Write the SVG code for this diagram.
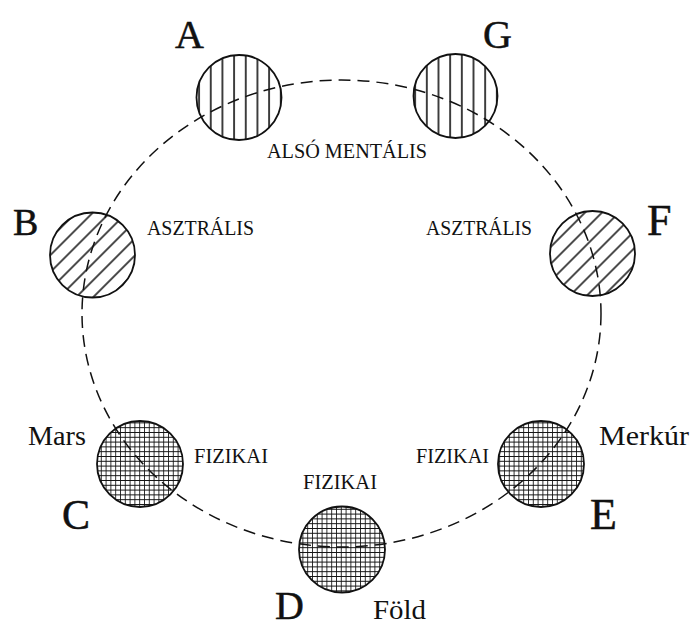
<svg xmlns="http://www.w3.org/2000/svg" width="692" height="628" viewBox="0 0 692 628">
<style>
.body{stroke:#111;stroke-width:1.8}
.big{font-family:"Liberation Serif","Times New Roman",serif;fill:#111;stroke:#111;stroke-width:0.5}
.word{font-family:"Liberation Serif","Times New Roman",serif;font-size:28px;fill:#111}
.lab{font-family:"Liberation Serif","Times New Roman",serif;font-size:20px;fill:#111}
.orbit{fill:none;stroke:#111;stroke-width:1.5;stroke-dasharray:12 7}
</style>
<defs>
<pattern id="vertA" patternUnits="userSpaceOnUse" x="0.7" y="0" width="11.67" height="20">
<rect width="11.67" height="20" fill="#fff"/>
<line x1="0" y1="0" x2="0" y2="20" stroke="#111" stroke-width="1.6"/>
<line x1="11.67" y1="0" x2="11.67" y2="20" stroke="#111" stroke-width="1.6"/>
</pattern>
<pattern id="vertG" href="#vertA" x="6.7"/>
<pattern id="diag" patternUnits="userSpaceOnUse" width="12" height="12" patternTransform="rotate(45)">
<rect width="12" height="12" fill="#fff"/>
<line x1="0" y1="0" x2="0" y2="12" stroke="#111" stroke-width="1.5"/>
<line x1="12" y1="0" x2="12" y2="12" stroke="#111" stroke-width="1.5"/>
</pattern>
<pattern id="grid" patternUnits="userSpaceOnUse" width="4.8" height="4.8">
<rect width="4.8" height="4.8" fill="#fff"/>
<path d="M0 0V4.8M0 0H4.8" stroke="#111" stroke-width="1.7"/>
</pattern>
</defs>
<rect width="692" height="628" fill="#fff"/>
<g id="node-A">
<circle class="body" cx="239" cy="97.5" r="42.5" fill="url(#vertA)"/>
<text class="big" x="175" y="48" font-size="40">A</text>
</g>
<g id="node-G">
<circle class="body" cx="455.5" cy="96" r="42" fill="url(#vertG)"/>
<text class="big" x="483" y="48" font-size="40">G</text>
</g>
<g id="label-mental">
<text class="lab" x="267" y="158" textLength="160" lengthAdjust="spacingAndGlyphs">ALSÓ MENTÁLIS</text>
</g>
<g id="node-B">
<circle class="body" cx="92.5" cy="255" r="42.5" fill="url(#diag)"/>
<text class="big" x="13" y="235" font-size="38">B</text>
<text class="lab" x="147" y="235" textLength="107" lengthAdjust="spacingAndGlyphs">ASZTRÁLIS</text>
</g>
<g id="node-F">
<circle class="body" cx="592.5" cy="253.5" r="42.5" fill="url(#diag)"/>
<text class="big" x="647" y="235" font-size="44">F</text>
<text class="lab" x="426" y="235" textLength="106" lengthAdjust="spacingAndGlyphs">ASZTRÁLIS</text>
</g>
<g id="node-C">
<circle class="body" cx="140" cy="464" r="43" fill="url(#grid)"/>
<text class="big" x="62" y="529" font-size="42">C</text>
<text class="word" x="28" y="445" textLength="58" lengthAdjust="spacingAndGlyphs">Mars</text>
<text class="lab" x="194" y="463" textLength="74" lengthAdjust="spacingAndGlyphs">FIZIKAI</text>
</g>
<g id="node-E">
<circle class="body" cx="541" cy="464" r="43" fill="url(#grid)"/>
<text class="big" x="590" y="529" font-size="44">E</text>
<text class="word" x="599" y="445" textLength="90" lengthAdjust="spacingAndGlyphs">Merkúr</text>
<text class="lab" x="416" y="463" textLength="73" lengthAdjust="spacingAndGlyphs">FIZIKAI</text>
</g>
<g id="node-D">
<circle class="body" cx="342" cy="549.5" r="43" fill="url(#grid)"/>
<text class="big" x="275" y="619" font-size="40">D</text>
<text class="word" x="373" y="619" textLength="53" lengthAdjust="spacingAndGlyphs">Föld</text>
<text class="lab" x="303" y="489" textLength="74" lengthAdjust="spacingAndGlyphs">FIZIKAI</text>
</g>
<g id="connectors">
<ellipse class="orbit" cx="341.5" cy="313.5" rx="259.5" ry="233.5"/>
</g>
</svg>
